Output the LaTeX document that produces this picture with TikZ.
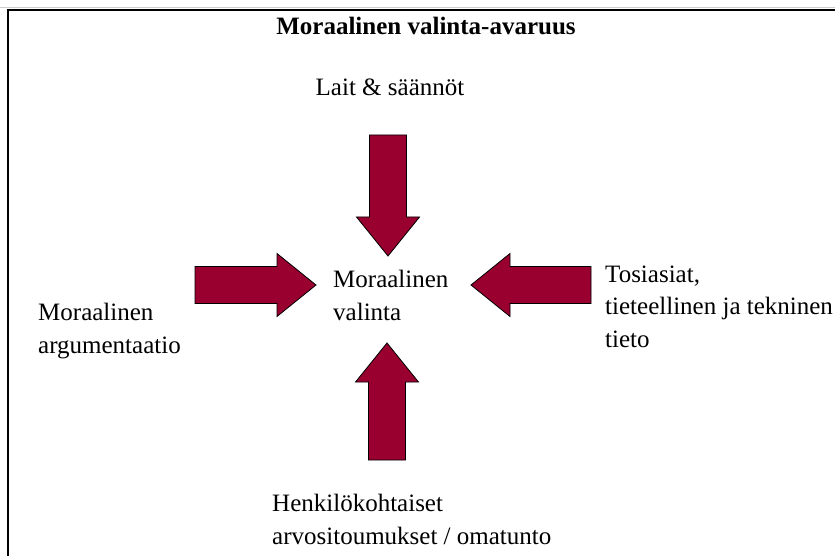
\documentclass[tikz,border=0pt]{standalone}
\usepackage{fontspec}
\setmainfont{Liberation Serif}
\definecolor{arrowred}{RGB}{153,0,48}

\begin{document}
\begin{tikzpicture}[
    x=1pt, y=-1pt,
    label/.style={inner sep=0pt, align=left, anchor=base west, font=\fontsize{25}{32.5}\selectfont},
    blockarrow/.style={fill=arrowred, draw=black, line width=0.8pt, line join=miter}
]
\useasboundingbox (0,0) rectangle (835,556);

% Frame
\draw[gray!40, line width=0.8pt] (0,7.5) -- (835,7.5);
\draw[line width=1.6pt] (8,556) -- (8,10) -- (835,10);

% Title
\node[label, anchor=base, font=\fontsize{25}{30}\selectfont\bfseries] (title) at (426,35) {Moraalinen valinta-avaruus};

% Labels (base = last line)
\node[label, anchor=base] (laws) at (390,96) {Lait \& säännöt};
\node[label] (choice) at (333,320) {Moraalinen\\valinta};
\node[label] (argument) at (38,353) {Moraalinen\\argumentaatio};
\node[label] (facts) at (605,347) {Tosiasiat,\\tieteellinen ja tekninen\\tieto};
\node[label] (values) at (272,544) {Henkilökohtaiset\\arvositoumukset / omatunto};

% Arrows: tip x / tip y / angle / length
\foreach \tx/\ty/\ang/\len in {388/256/-90/121, 316/285/0/121, 471/285/180/120, 387/343/90/117} {
    \draw[blockarrow, shift={(\tx,\ty)}, rotate=\ang]
        (0,0) -- (-39,31.5) -- (-39,18.5) -- (-\len,18.5) -- (-\len,-18.5)
        -- (-39,-18.5) -- (-39,-31.5) -- cycle;
}
\end{tikzpicture}
\end{document}
